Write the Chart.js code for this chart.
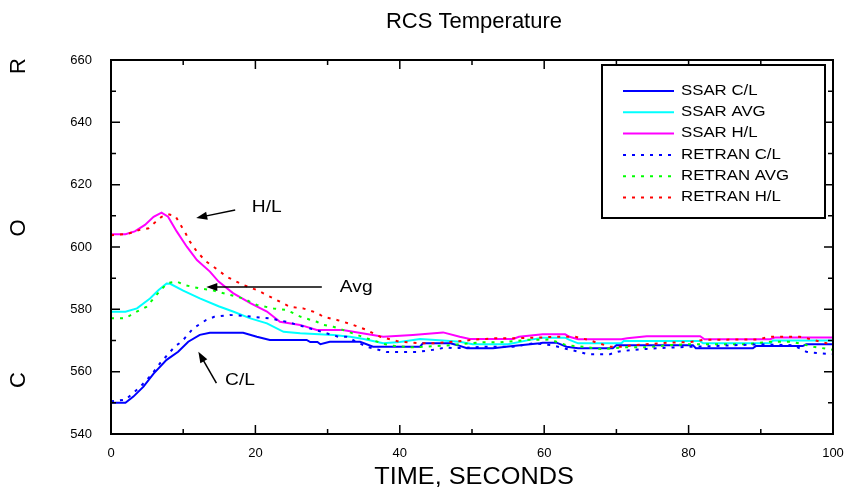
<!DOCTYPE html>
<html>
<head>
<meta charset="utf-8">
<script src="https://cdn.jsdelivr.net/npm/chart.js@4.4.1/dist/chart.umd.min.js"></script>
<style>
  html, body { margin: 0; padding: 0; background: #fff; }
  #wrap { width: 850px; height: 495px; }
</style>
</head>
<body>
<div id="wrap"><canvas id="myChart" width="850" height="495"></canvas></div>
<script>
// time (s) and temperature values
var ssarClT  = [0, 2, 3.1, 4.5, 5.9, 7.7, 9.3, 10.7, 12.3, 13.7, 18.3, 20.2, 22, 27.1, 27.6, 28.6, 29, 30.3, 34.5, 36.3, 42.8, 43.2, 47, 48, 49.3, 52.9, 56, 59.4, 59.8, 61.7, 63.1, 64.7, 69.5, 70, 80.6, 81, 88.9, 89.3, 95.8, 96.3, 100];
var ssarClV  = [550, 550, 552, 555.2, 559.4, 563.8, 566.4, 569.6, 571.8, 572.5, 572.5, 571.2, 570.2, 570.2, 569.5, 569.5, 568.8, 569.6, 569.6, 568, 568, 569.1, 569.1, 568.5, 567.5, 567.5, 568.3, 569.1, 569.3, 569.3, 568, 567.5, 567.5, 568.5, 568.5, 567.5, 567.5, 568.2, 568.2, 568.8, 568.8];

var ssarAvgT = [0, 2, 3.6, 5.4, 6.6, 7.7, 8.2, 10, 12.3, 14.9, 16.9, 19.3, 21.6, 23.9, 26.2, 30.8, 33.1, 35, 37.7, 40, 42.8, 46, 48.3, 50.1, 55, 58, 59.8, 62.9, 63.5, 64.7, 70.7, 71, 81.6, 82, 91.3, 91.7, 100];
var ssarAvgV = [579.2, 579.2, 580.3, 583.5, 586.2, 588.3, 588.2, 586, 583.5, 581, 579.3, 577.1, 575.5, 572.8, 572.3, 571.8, 571.2, 570.5, 569.1, 569.5, 570.5, 570, 569.6, 568.8, 568.8, 570.2, 570.9, 570.9, 570.2, 569.1, 569.1, 569.8, 569.8, 569.1, 569.1, 570, 570];

var ssarHlT  = [0, 2, 3.3, 4.7, 5.9, 7, 7.9, 9.1, 10.5, 11.9, 13.7, 14.9, 16.9, 19.3, 21.6, 23.4, 26.2, 28.5, 32.1, 37.7, 41.8, 46, 48.3, 49.7, 55.7, 56.5, 59.8, 62.9, 63.5, 64.7, 70.7, 71.5, 74.2, 81.6, 82.2, 91.3, 92, 100];
var ssarHlV  = [604.1, 604.1, 605, 607.1, 609.7, 611, 609.7, 605, 600.1, 595.8, 592.1, 588.9, 585.2, 582, 579.3, 576, 575, 573.4, 573.4, 571.2, 571.8, 572.6, 571.2, 570.5, 570.5, 571.2, 572, 572, 571.2, 570.4, 570.4, 570.7, 571.4, 571.4, 570.4, 570.4, 571, 571];

var retClT   = [0, 2, 4, 5.6, 6.8, 8.9, 9.8, 10.6, 11.4, 13.2, 14.3, 16.5, 18.3, 19.7, 22, 24.3, 27.1, 30.3, 31.5, 32.6, 35.4, 38.2, 42.3, 44.6, 46.5, 47.4, 52, 55.7, 58.5, 61, 64, 66.1, 69.1, 70.2, 72.3, 74.2, 77.2, 80.2, 83.4, 89.8, 94.5, 96.3, 97.3, 100];
var retClV   = [550.5, 551, 555, 559, 562.7, 568.2, 569.6, 571.8, 573.9, 576.6, 577.6, 578.2, 577.9, 577.6, 577.1, 576, 574.2, 572, 571.2, 571.2, 568, 566.3, 566.3, 567, 567.8, 567.5, 568, 568, 569.1, 568.5, 566.8, 565.6, 565.6, 566.4, 567, 567.3, 567.7, 568, 568.2, 568.8, 568.5, 566.4, 566.1, 565.6];

var retAvgT  = [0, 2, 3.1, 4.9, 5.9, 7, 7.9, 9.1, 10.2, 12.1, 14.2, 16.5, 18.3, 20.2, 22.5, 24.3, 26.3, 28.5, 29.4, 30.8, 32.1, 35.4, 38.4, 41.4, 43.5, 47, 48.3, 51.1, 53.9, 57.6, 60.8, 63.1, 66.1, 68, 71, 74.2, 77.2, 80.2, 88, 91.3, 94.3, 97.3, 100];
var retAvgV  = [577.1, 577.1, 578.7, 580.8, 583.5, 586.5, 588.5, 588.9, 587.8, 586.8, 586, 584.6, 583.5, 581.4, 580.3, 579.8, 577.6, 576, 575, 574.4, 573.4, 570.7, 568.5, 567.8, 568, 568.5, 568.8, 569.4, 569.4, 570.2, 570.3, 568.5, 567.8, 567.2, 567.8, 567.8, 568.5, 568.8, 568.8, 569.6, 569.6, 568, 567];

var retHlT   = [0, 2.3, 4, 5.2, 6.1, 7, 7.9, 8.9, 10.4, 10.7, 11.9, 13.2, 14.2, 16, 18.3, 20.2, 22.5, 24.8, 26.6, 28.5, 29.4, 31.3, 33.3, 35.4, 37.3, 40, 42.8, 44.6, 47.4, 50.1, 52.9, 55.7, 59.8, 61.3, 64.3, 66.1, 68, 69.1, 70.9, 72.3, 74.2, 77.2, 80.2, 82, 86.1, 89.4, 91.3, 95.4, 97.3, 99.1, 100];
var retHlV   = [603.8, 604.2, 605.5, 606, 607.9, 609.7, 610.5, 610, 604.1, 602.5, 598.5, 595.3, 593.7, 590.5, 587.8, 586.2, 583.5, 580.8, 580.3, 578.9, 577.6, 576.6, 575.2, 573.4, 571.2, 569.6, 569.1, 569.1, 569.6, 570.2, 570.7, 570.7, 571, 571.2, 571.2, 570.2, 568.8, 568, 568, 568.5, 568.8, 569.3, 569.5, 570.2, 570.3, 570.3, 571.2, 571.2, 570.2, 569.1, 569];

var seriesNames = ['SSAR C/L', 'SSAR AVG', 'SSAR H/L', 'RETRAN C/L', 'RETRAN AVG', 'RETRAN H/L'];
var seriesColors = ['#0000ff', '#00ffff', '#ff00ff', '#0000ff', '#00ff00', '#ff0000'];
var xTicks = [0, 20, 40, 60, 80, 100];
var yTicks = [540, 560, 580, 600, 620, 640, 660];

// annotation arrows: [label, textT, textV, tailT, tailV, headT, headV]
var notes = [
    ['H/L', 19.5, 612.5, 17.2, 611.9, 11.8, 609.3],
    ['Avg', 31.7, 587, 29.2, 587.2, 13.2, 587.2],
    ['C/L', 15.8, 557, 14.6, 556.3, 12.1, 566.4]
];

function pts(t, v) {
    return t.map(function(x, i) { return {x: x, y: v[i]}; });
}

var allT = [ssarClT, ssarAvgT, ssarHlT, retClT, retAvgT, retHlT];
var allV = [ssarClV, ssarAvgV, ssarHlV, retClV, retAvgV, retHlV];

var datasets = seriesNames.map(function(name, i) {
    var dotted = i >= 3;
    return {
        label: name,
        data: pts(allT[i], allV[i]),
        borderColor: seriesColors[i],
        backgroundColor: seriesColors[i],
        borderWidth: 2,
        borderDash: dotted ? [3, 6] : [],
        pointRadius: 0,
        tension: 0,
        fill: false,
        order: dotted ? 0 : 1
    };
});

var FONT = '"Liberation Sans", Arial, sans-serif';

// text drawn a little wider than the font, like the original
function wideText(ctx, txt, x, y, sx) {
    ctx.save();
    ctx.translate(x, y);
    ctx.scale(sx, 1);
    ctx.fillText(txt, 0, 0);
    ctx.restore();
}

var framePlugin = {
    id: 'frame',
    afterDraw: function(chart) {
        var ctx = chart.ctx, a = chart.chartArea;
        var xs = chart.scales.x, ys = chart.scales.y;
        ctx.save();

        // plot box and inward ticks on all four sides
        ctx.strokeStyle = '#000';
        ctx.lineWidth = 2;
        ctx.strokeRect(a.left, a.top, a.right - a.left, a.bottom - a.top);
        ctx.lineWidth = 1.5;
        ctx.beginPath();
        for (var t = 0; t <= 100; t += 10) {
            var px = xs.getPixelForValue(t), len = t % 20 === 0 ? 9 : 5;
            ctx.moveTo(px, a.bottom); ctx.lineTo(px, a.bottom - len);
            ctx.moveTo(px, a.top); ctx.lineTo(px, a.top + len);
        }
        for (var v = 540; v <= 660; v += 10) {
            var py = ys.getPixelForValue(v), l2 = v % 20 === 0 ? 9 : 5;
            ctx.moveTo(a.left, py); ctx.lineTo(a.left + l2, py);
            ctx.moveTo(a.right, py); ctx.lineTo(a.right - l2, py);
        }
        ctx.stroke();

        // legend box
        var bx = a.right - 231, by = a.top + 5, bw = 223, bh = 153;
        ctx.fillStyle = '#fff';
        ctx.fillRect(bx, by, bw, bh);
        ctx.lineWidth = 2;
        ctx.strokeRect(bx, by, bw, bh);
        ctx.font = '14px ' + FONT;
        ctx.textBaseline = 'middle';
        ctx.textAlign = 'left';
        chart.data.datasets.forEach(function(ds, i) {
            var ry = by + 26 + i * 21.3;
            ctx.beginPath();
            ctx.strokeStyle = ds.borderColor;
            ctx.lineWidth = 2;
            ctx.setLineDash(ds.borderDash);
            ctx.moveTo(bx + 21, ry);
            ctx.lineTo(bx + 72, ry);
            ctx.stroke();
            ctx.setLineDash([]);
            ctx.fillStyle = '#000';
            wideText(ctx, ds.label, bx + 79, ry, 1.2);
        });

        // arrows with labels
        ctx.strokeStyle = '#000';
        ctx.fillStyle = '#000';
        notes.forEach(function(n) {
            var x0 = xs.getPixelForValue(n[3]), y0 = ys.getPixelForValue(n[4]);
            var x1 = xs.getPixelForValue(n[5]), y1 = ys.getPixelForValue(n[6]);
            var ang = Math.atan2(y1 - y0, x1 - x0);
            ctx.lineWidth = 1.5;
            ctx.beginPath();
            ctx.moveTo(x0, y0);
            ctx.lineTo(x1 - 8 * Math.cos(ang), y1 - 8 * Math.sin(ang));
            ctx.stroke();
            ctx.beginPath();
            ctx.moveTo(x1, y1);
            ctx.lineTo(x1 - 11 * Math.cos(ang) + 4 * Math.sin(ang), y1 - 11 * Math.sin(ang) - 4 * Math.cos(ang));
            ctx.lineTo(x1 - 11 * Math.cos(ang) - 4 * Math.sin(ang), y1 - 11 * Math.sin(ang) + 4 * Math.cos(ang));
            ctx.closePath();
            ctx.fill();
            ctx.font = '16px ' + FONT;
            wideText(ctx, n[0], xs.getPixelForValue(n[1]), ys.getPixelForValue(n[2]), 1.2);
        });

        // titles
        ctx.textAlign = 'center';
        ctx.font = '22px ' + FONT;
        ctx.fillText('RCS Temperature', (a.left + a.right) / 2 + 2, 22);
        ctx.font = '23px ' + FONT;
        wideText(ctx, 'TIME, SECONDS', (a.left + a.right) / 2 + 2, 478, 1.1);
        ctx.font = '22px ' + FONT;
        var letters = [['R', 66], ['O', 228], ['C', 380]];
        letters.forEach(function(l) {
            ctx.save();
            ctx.translate(19, l[1]);
            ctx.rotate(-Math.PI / 2);
            ctx.fillText(l[0], 0, 0);
            ctx.restore();
        });
        ctx.restore();
    }
};

var ctx = document.getElementById('myChart').getContext('2d');
var chart = new Chart(ctx, {
    type: 'line',
    data: { datasets: datasets },
    options: {
        responsive: false,
        animation: false,
        devicePixelRatio: 1,
        layout: { padding: { top: 60, right: 17, left: 0, bottom: 0 } },
        plugins: {
            legend: { display: false },
            tooltip: { enabled: false }
        },
        scales: {
            x: {
                type: 'linear',
                min: 0,
                max: 100,
                afterFit: function(s) { s.height = 61; s.paddingLeft = 0; s.paddingRight = 0; },
                afterBuildTicks: function(s) { s.ticks = xTicks.map(function(v) { return {value: v}; }); },
                grid: { display: false, drawTicks: false },
                border: { display: false },
                ticks: { color: '#000', padding: 12, maxRotation: 0, font: { family: FONT, size: 13 } }
            },
            y: {
                type: 'linear',
                min: 540,
                max: 660,
                afterFit: function(s) { s.width = 111; s.paddingTop = 0; s.paddingBottom = 0; },
                afterBuildTicks: function(s) { s.ticks = yTicks.map(function(v) { return {value: v}; }); },
                grid: { display: false, drawTicks: false },
                border: { display: false },
                ticks: { color: '#000', padding: 19, font: { family: FONT, size: 13 } }
            }
        }
    },
    plugins: [framePlugin]
});
</script>
</body>
</html>
